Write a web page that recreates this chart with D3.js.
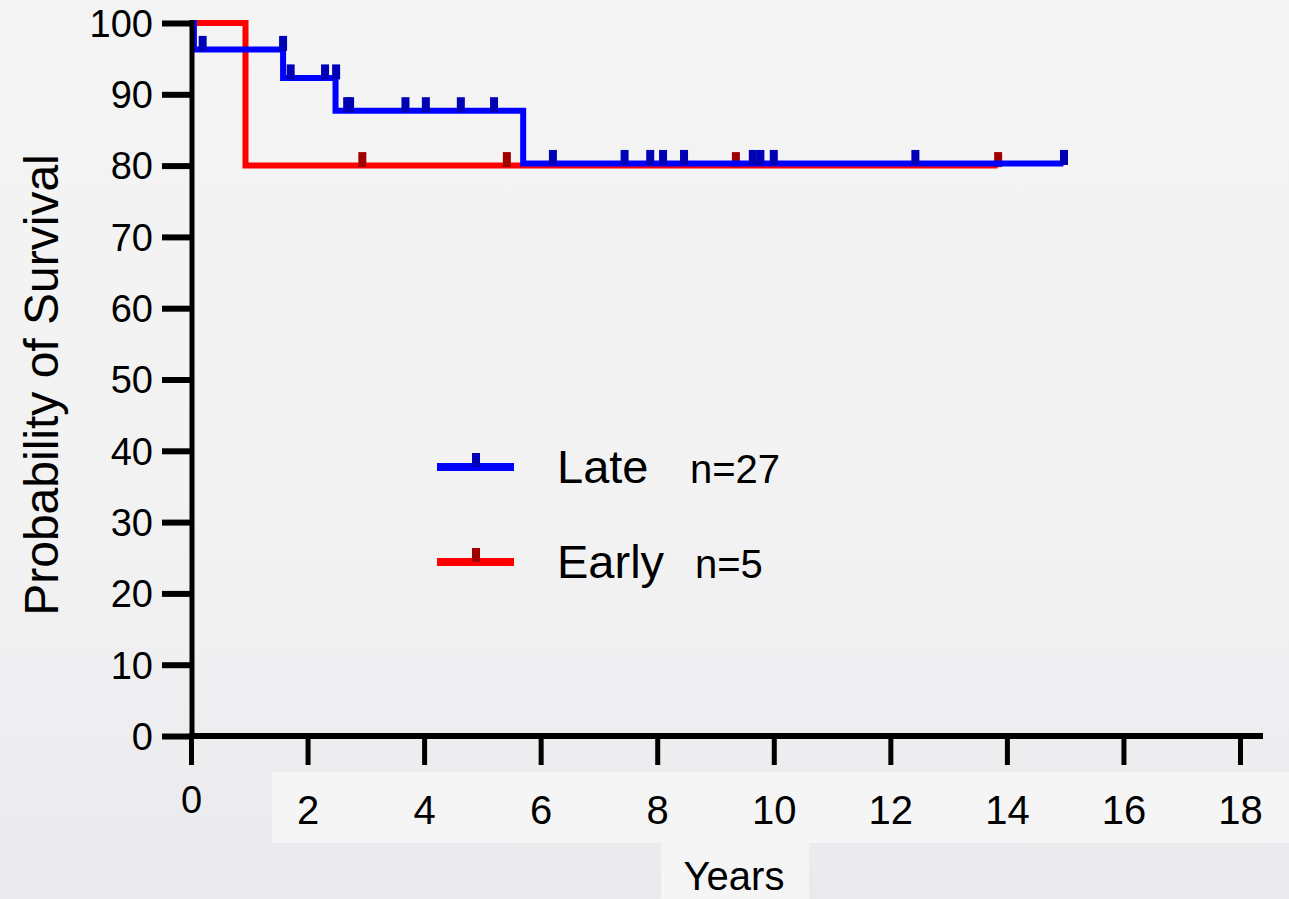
<!DOCTYPE html>
<html>
<head>
<meta charset="utf-8">
<script src="https://cdn.jsdelivr.net/npm/d3@7"></script>
<style>
  html, body { margin: 0; padding: 0; }
  body { width: 1289px; height: 899px; overflow: hidden; }
  text { font-family: "Liberation Sans", Arial, sans-serif; fill: #000; }
</style>
</head>
<body>
<svg id="svg" width="1289" height="899"></svg>
<script>
// Kaplan-Meier curves
const lateTimes = [0, 0.05, 1.58, 2.48, 5.70, 14.97];
const lateSurv  = [100, 96.3, 92.3, 87.7, 80.3, 80.3];
const lateCensorT = [0.20, 1.58, 1.71, 2.30, 2.49, 2.68, 2.73, 3.68, 4.03, 4.63, 5.20,
                     6.21, 7.44, 7.88, 8.10, 8.46, 9.64, 9.77, 10.0, 12.43, 14.98];
const lateCensorS = [96.3, 96.3, 92.3, 92.3, 92.3, 87.7, 87.7, 87.7, 87.7, 87.7, 87.7,
                     80.3, 80.3, 80.3, 80.3, 80.3, 80.3, 80.3, 80.3, 80.3, 80.3];

const earlyTimes = [0, 0.935, 13.84];
const earlySurv  = [100, 80, 80];
const earlyCensorT = [2.94, 5.42, 9.35, 13.85];
const earlyCensorS = [80, 80, 80, 80];

const xTicks = [0, 2, 4, 6, 8, 10, 12, 14, 16, 18];
const yTicks = [0, 10, 20, 30, 40, 50, 60, 70, 80, 90, 100];

const legendNames = ["Late", "Early"];
const legendN = ["n=27", "n=5"];

var svg = d3.select("#svg");
const defs = svg.append("defs");

// background
var bg = defs.append("linearGradient")
    .attr("id", "bg")
    .attr("x1", 0).attr("y1", 0).attr("x2", 0).attr("y2", 1);
bg.append("stop").attr("offset", 0).attr("stop-color", "#f4f4f4");
bg.append("stop").attr("offset", 0.6).attr("stop-color", "#f2f2f3");
bg.append("stop").attr("offset", 1).attr("stop-color", "#eaeaee");
svg.append("rect").attr("width", 1289).attr("height", 899).attr("fill", "url(#bg)");
// lighter label strips
svg.append("rect").attr("x", 272).attr("y", 772).attr("width", 1017).attr("height", 71).attr("fill", "#f5f5f5");
svg.append("rect").attr("x", 661).attr("y", 843).attr("width", 148).attr("height", 56).attr("fill", "#f5f5f5");

var x = d3.scaleLinear().domain([0, 18]).range([191, 1240]);
var y = d3.scaleLinear().domain([0, 100]).range([736, 23]);

var line = d3.line()
    .x(d => x(d[0]))
    .y(d => y(d[1]))
    .curve(d3.curveStepAfter);

function curve(times, surv, cT, cS, col, markCol) {
    var g = svg.append("g");
    g.append("path")
        .datum(d3.zip(times, surv))
        .attr("d", line)
        .attr("fill", "none")
        .attr("stroke", col)
        .attr("stroke-width", 6);
    g.selectAll("rect")
        .data(d3.zip(cT, cS))
        .join("rect")
        .attr("x", d => x(d[0]) - 4)
        .attr("y", d => y(d[1]) - 13.5)
        .attr("width", 8)
        .attr("height", 15)
        .attr("fill", markCol);
}

curve(earlyTimes, earlySurv, earlyCensorT, earlyCensorS, "#ff0000", "#a00000");
curve(lateTimes, lateSurv, lateCensorT, lateCensorS, "#0000ff", "#0000b4");

// y axis
var yAxis = d3.axisLeft(y).tickValues(yTicks).tickSize(30).tickPadding(9);
var gy = svg.append("g").attr("transform", "translate(192,0)").call(yAxis);
gy.select(".domain").remove();
gy.selectAll(".tick line").attr("stroke", "#000").attr("stroke-width", 6);
gy.selectAll(".tick text").style("font-size", "38px").attr("dy", "0.35em");
svg.append("line").attr("x1", 192).attr("x2", 192).attr("y1", 20).attr("y2", 739)
    .attr("stroke", "#000").attr("stroke-width", 5);

// x axis
var xAxis = d3.axisBottom(x).tickValues(xTicks).tickSize(29);
var gx = svg.append("g").attr("transform", "translate(0,736)").call(xAxis);
gx.select(".domain").remove();
gx.selectAll(".tick line").attr("stroke", "#000").attr("stroke-width", 5);
gx.selectAll(".tick text")
    .style("font-size", d => d === 0 ? "38px" : "40px")
    .attr("dy", 0)
    .attr("y", d => d === 0 ? 77 : 88);
svg.append("line").attr("x1", 189).attr("x2", 1263).attr("y1", 736).attr("y2", 736)
    .attr("stroke", "#000").attr("stroke-width", 6);

// axis titles
svg.append("text")
    .attr("transform", "translate(58,385) rotate(-90)")
    .attr("text-anchor", "middle")
    .style("font-size", "48px")
    .text("Probability of Survival");

svg.append("text")
    .attr("x", 734).attr("y", 890)
    .attr("text-anchor", "middle")
    .style("font-size", "40px")
    .text("Years");

// legend
const legCols = ["#0000ff", "#ff0000"];
const legMarks = ["#0000b4", "#a00000"];
const legY = [467, 562];
const legNx = [690, 695];
legendNames.forEach((name, i) => {
    var g = svg.append("g");
    g.append("line").attr("x1", 437).attr("x2", 514).attr("y1", legY[i]).attr("y2", legY[i])
        .attr("stroke", legCols[i]).attr("stroke-width", 8);
    g.append("rect").attr("x", 472).attr("y", legY[i] - 14).attr("width", 8).attr("height", 14)
        .attr("fill", legMarks[i]);
    g.append("text").attr("x", 557).attr("y", legY[i] + 16)
        .style("font-size", "47px").text(name);
    g.append("text").attr("x", legNx[i]).attr("y", legY[i] + 16)
        .style("font-size", "40px").text(legendN[i]);
});
</script>
</body>
</html>
